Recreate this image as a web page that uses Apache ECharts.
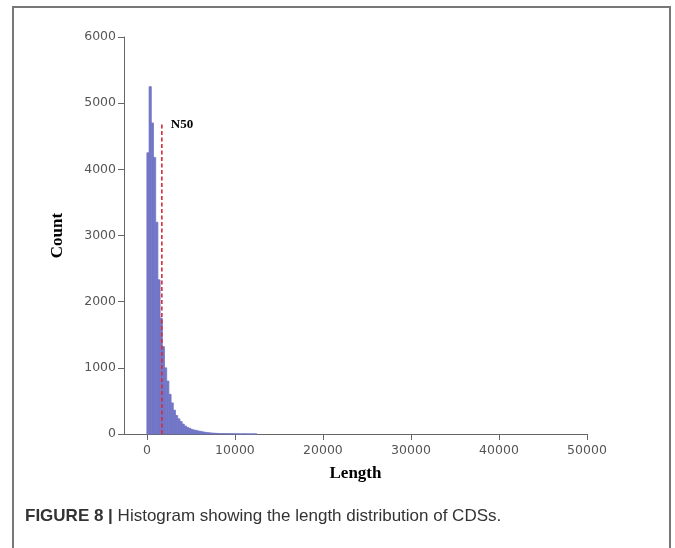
<!DOCTYPE html>
<html>
<head>
<meta charset="utf-8">
<script src="https://cdn.jsdelivr.net/npm/echarts@6/dist/echarts.min.js"></script>
<style>html,body{margin:0;padding:0;background:#fff}#c{width:675px;height:548px}</style>
</head>
<body>
<div id="c"></div>
<script>
// Histogram data (bin width in bp, counts per bin starting at 0)
var binWidth = 250;
var counts = [4250, 5250, 4700, 4180, 3200, 2330, 1750, 1320, 1000, 800,
              600, 470, 360, 280, 230, 190, 150, 120, 100, 85,
              70, 60, 55, 45, 40, 32, 26, 22, 18, 15,
              12, 10, 8, 7, 6, 5, 5, 4, 4, 3,
              3, 2, 2, 2, 2, 1, 1, 1, 1, 1];
var n50 = 1700;
var n50Top = 4700;
var xTicks = [0, 10000, 20000, 30000, 40000, 50000];
var yTicks = [0, 1000, 2000, 3000, 4000, 5000, 6000];

var histData = counts.map(function (c, i) { return [i * binWidth, (i + 1) * binWidth, c]; });

var chart = echarts.init(document.getElementById('c'), null, {renderer: 'canvas'});
chart.setOption({
  animation: false,
  backgroundColor: '#fff',
  grid: {left: 124, right: 88, top: 37, bottom: 114},
  xAxis: {
    type: 'value', min: -2600, max: 50000,
    axisLine: {onZero: false, lineStyle: {color: '#666', width: 1}},
    axisTick: {show: true, length: 6, lineStyle: {color: '#666'}, customValues: xTicks},
    axisLabel: {color: '#555', fontFamily: 'DejaVu Sans', fontSize: 12.5, margin: 10, customValues: xTicks,
      formatter: function (v) { return String(v); }},
    splitLine: {show: false},
    name: 'Length', nameLocation: 'middle', nameGap: 31,
    nameTextStyle: {fontFamily: 'Liberation Serif', fontWeight: 'bold', fontSize: 17, color: '#000'}
  },
  yAxis: {
    type: 'value', min: 0, max: 6000, interval: 1000,
    axisLine: {show: true, onZero: false, lineStyle: {color: '#666', width: 1}},
    axisTick: {show: true, length: 6, lineStyle: {color: '#666'}},
    axisLabel: {color: '#555', fontFamily: 'DejaVu Sans', fontSize: 12.5, margin: 8,
      formatter: function (v) { return String(v); }},
    splitLine: {show: false},
    name: 'Count', nameLocation: 'middle', nameGap: 58, nameRotate: 90,
    nameTextStyle: {fontFamily: 'Liberation Serif', fontWeight: 'bold', fontSize: 17, color: '#000'}
  },
  series: [{
    type: 'custom',
    data: histData,
    renderItem: function (params, api) {
      var p0 = api.coord([api.value(0), api.value(2)]);
      var p1 = api.coord([api.value(1), 0]);
      return {
        type: 'rect',
        shape: {x: p0[0], y: p0[1], width: p1[0] - p0[0], height: p1[1] - p0[1]},
        style: {fill: '#7276c6', stroke: '#7276c6', lineWidth: 0.8}
      };
    },
    encode: {x: [0, 1], y: 2},
    z: 2
  }, {
    type: 'line',
    data: [[n50, 0], [n50, n50Top]],
    symbol: 'none',
    lineStyle: {color: '#d62a3a', width: 1.6, type: [4, 2.5]},
    z: 5,
    markPoint: {
      symbol: 'circle', symbolSize: 0,
      data: [{coord: [n50, n50Top]}],
      label: {show: true, formatter: 'N50', position: 'right', offset: [4, 2],
        fontFamily: 'Liberation Serif', fontWeight: 'bold', fontSize: 13, color: '#000'}
    }
  }],
  graphic: [
    {type: 'polyline', shape: {points: [[13, 548], [13, 7], [670, 7], [670, 548]]},
     style: {stroke: '#777', lineWidth: 2, fill: null}},
    {type: 'text', left: 25, top: 508,
     style: {text: '{b|FIGURE 8 |} Histogram showing the length distribution of CDSs.',
       fontFamily: 'Liberation Sans', fontSize: 17, fill: '#333',
       rich: {b: {fontFamily: 'Liberation Sans', fontWeight: 'bold', fontSize: 17, fill: '#333'}}}}
  ]
});
</script>
</body>
</html>
